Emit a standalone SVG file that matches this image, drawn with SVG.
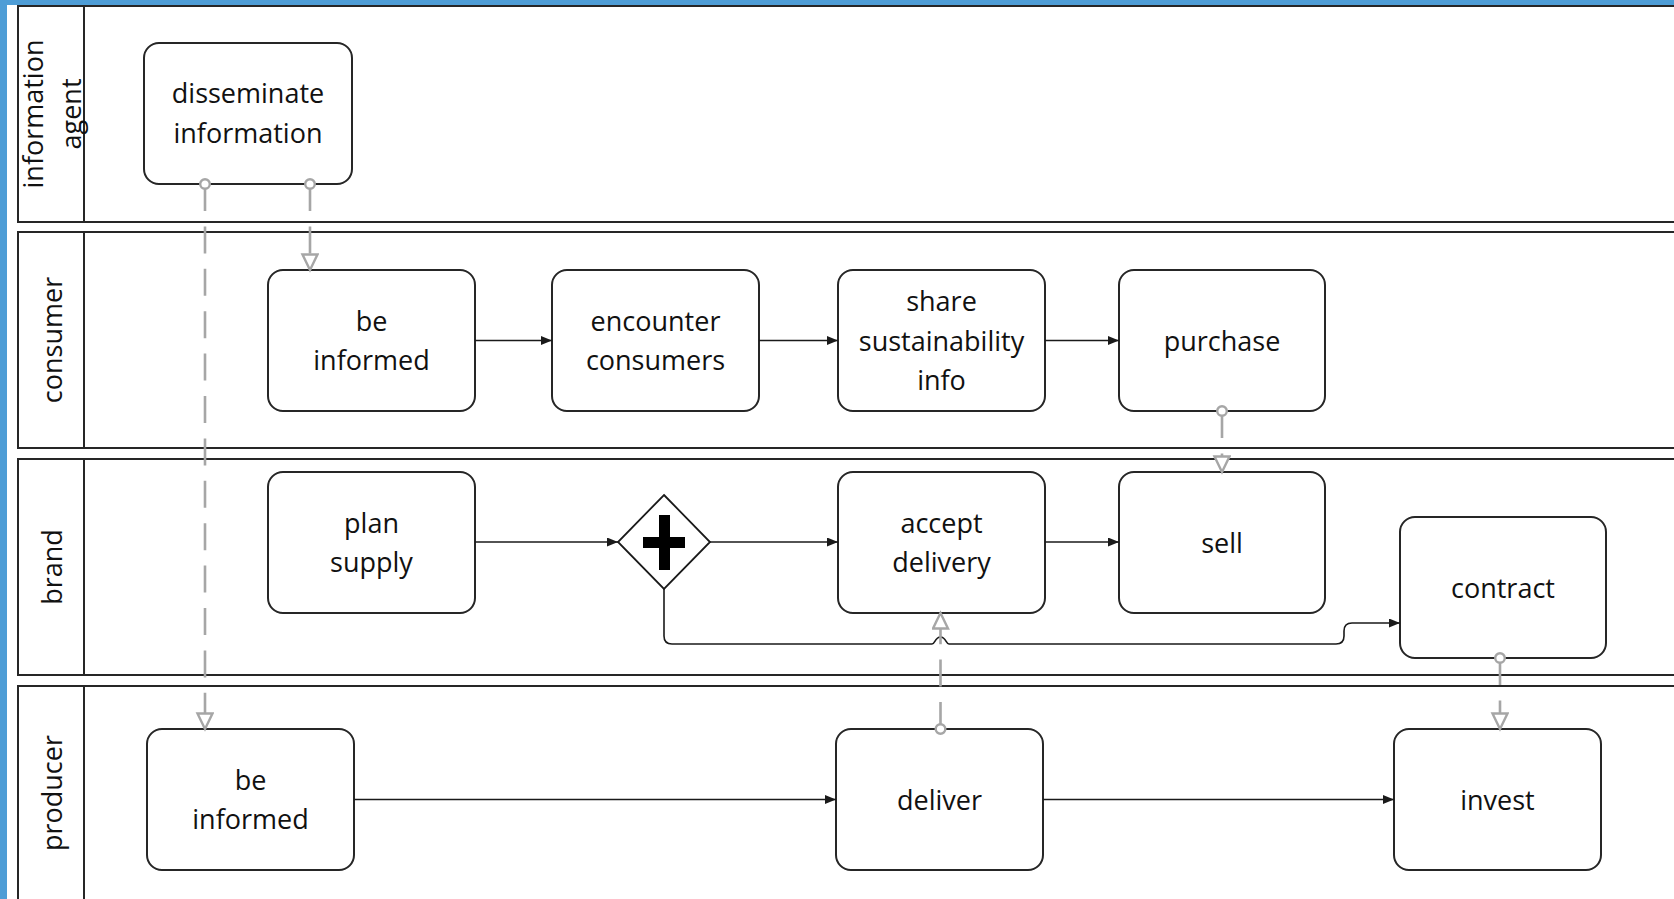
<svg xmlns="http://www.w3.org/2000/svg" width="1674" height="899" viewBox="0 0 1674 899">
  <style>
    .lane { fill: #ffffff; stroke: #262626; stroke-width: 2; }
    .hdr { stroke: #262626; stroke-width: 2; }
    .task { fill: #ffffff; stroke: #262626; stroke-width: 2; }
    .lbl { font-family: "Open Sans", "Noto Sans", sans-serif; font-size: 27px; fill: #111111; text-anchor: middle; }
    .seq { fill: none; stroke: #1a1a1a; stroke-width: 1.6; marker-end: url(#arrow); }
    .msg { fill: none; stroke: #a6a6a6; stroke-width: 2.6; stroke-dasharray: 27 15.4; marker-start: url(#dot); marker-end: url(#open); }
  </style>
  <defs>
    <marker id="arrow" markerUnits="userSpaceOnUse" markerWidth="12" markerHeight="10" refX="11" refY="4.5" orient="auto">
      <path d="M0,0 L11,4.5 L0,9 z" fill="#1a1a1a"/>
    </marker>
    <marker id="open" markerUnits="userSpaceOnUse" markerWidth="20" markerHeight="20" refX="17" refY="9" orient="auto">
      <path d="M1.5,1.5 L17,9 L1.5,16.5 z" fill="#ffffff" stroke="#a6a6a6" stroke-width="2.4" stroke-dasharray="none"/>
    </marker>
    <marker id="dot" markerUnits="userSpaceOnUse" markerWidth="14" markerHeight="14" refX="7" refY="7" orient="auto">
      <circle cx="7" cy="7" r="4.8" fill="#ffffff" stroke="#a6a6a6" stroke-width="2.4" stroke-dasharray="none"/>
    </marker>
  </defs>

  <rect x="0" y="0" width="1674" height="899" fill="#ffffff"/>
  <!-- window frame -->
  <rect x="0" y="0" width="7" height="899" fill="#4e9dd6"/>
  <rect x="0" y="0" width="1674" height="5" fill="#4e9dd6"/>

  <!-- swimlanes -->
  <g id="lane-information-agent">
    <rect class="lane" x="18" y="6" width="1700" height="216"/>
    <line class="hdr" x1="84" y1="6" x2="84" y2="222"/>
    <text class="lbl" transform="translate(43,114) rotate(-90)">information</text>
    <text class="lbl" transform="translate(81,114) rotate(-90)">agent</text>
  </g>
  <g id="lane-consumer">
    <rect class="lane" x="18" y="232" width="1700" height="216"/>
    <line class="hdr" x1="84" y1="232" x2="84" y2="448"/>
    <text class="lbl" transform="translate(62,340) rotate(-90)">consumer</text>
  </g>
  <g id="lane-brand">
    <rect class="lane" x="18" y="459" width="1700" height="216"/>
    <line class="hdr" x1="84" y1="459" x2="84" y2="675"/>
    <text class="lbl" transform="translate(62,567) rotate(-90)">brand</text>
  </g>
  <g id="lane-producer">
    <rect class="lane" x="18" y="686" width="1700" height="230"/>
    <line class="hdr" x1="84" y1="686" x2="84" y2="916"/>
    <text class="lbl" transform="translate(62,793) rotate(-90)">producer</text>
  </g>

  <!-- tasks -->
  <g id="disseminate-information">
    <rect class="task" x="144" y="43" width="208" height="141" rx="15"/>
    <text class="lbl" x="248" y="103">disseminate</text>
    <text class="lbl" x="248" y="143">information</text>
  </g>
  <g id="consumer-be-informed">
    <rect class="task" x="268" y="270" width="207" height="141" rx="15"/>
    <text class="lbl" x="371.5" y="331">be</text>
    <text class="lbl" x="371.5" y="370">informed</text>
  </g>
  <g id="encounter-consumers">
    <rect class="task" x="552" y="270" width="207" height="141" rx="15"/>
    <text class="lbl" x="655.5" y="331">encounter</text>
    <text class="lbl" x="655.5" y="370">consumers</text>
  </g>
  <g id="share-sustainability-info">
    <rect class="task" x="838" y="270" width="207" height="141" rx="15"/>
    <text class="lbl" x="941.5" y="311">share</text>
    <text class="lbl" x="941.5" y="351">sustainability</text>
    <text class="lbl" x="941.5" y="390">info</text>
  </g>
  <g id="purchase">
    <rect class="task" x="1119" y="270" width="206" height="141" rx="15"/>
    <text class="lbl" x="1222" y="351">purchase</text>
  </g>
  <g id="plan-supply">
    <rect class="task" x="268" y="472" width="207" height="141" rx="15"/>
    <text class="lbl" x="371.5" y="533">plan</text>
    <text class="lbl" x="371.5" y="572">supply</text>
  </g>
  <g id="parallel-gateway">
    <path d="M664,495 L710,542 L664,589 L618,542 z" fill="#ffffff" stroke="#1a1a1a" stroke-width="1.8"/>
    <path d="M659,515 h11 v22 h15 v11 h-15 v22 h-11 v-22 h-16 v-11 h16 z" fill="#000000"/>
  </g>
  <g id="accept-delivery">
    <rect class="task" x="838" y="472" width="207" height="141" rx="15"/>
    <text class="lbl" x="941.5" y="533">accept</text>
    <text class="lbl" x="941.5" y="572">delivery</text>
  </g>
  <g id="sell">
    <rect class="task" x="1119" y="472" width="206" height="141" rx="15"/>
    <text class="lbl" x="1222" y="553">sell</text>
  </g>
  <g id="contract">
    <rect class="task" x="1400" y="517" width="206" height="141" rx="15"/>
    <text class="lbl" x="1503" y="598">contract</text>
  </g>
  <g id="producer-be-informed">
    <rect class="task" x="147" y="729" width="207" height="141" rx="15"/>
    <text class="lbl" x="250.5" y="790">be</text>
    <text class="lbl" x="250.5" y="829">informed</text>
  </g>
  <g id="deliver">
    <rect class="task" x="836" y="729" width="207" height="141" rx="15"/>
    <text class="lbl" x="939.5" y="810">deliver</text>
  </g>
  <g id="invest">
    <rect class="task" x="1394" y="729" width="207" height="141" rx="15"/>
    <text class="lbl" x="1497.5" y="810">invest</text>
  </g>

  <!-- flows -->
  <g id="connectors">
    <!-- sequence flows -->
    <path class="seq" d="M475,340.5 H552"/>
    <path class="seq" d="M759,340.5 H838"/>
    <path class="seq" d="M1045,340.5 H1119"/>
    <path class="seq" d="M475,542 H618"/>
    <path class="seq" d="M710,542 H838"/>
    <path class="seq" d="M1045,542 H1119"/>
    <path class="seq" d="M664,589 V636 Q664,644 672,644 H932 C935,644 935,637 940.5,637 C946,637 946,644 949,644 H1336 Q1344,644 1344,636 V631 Q1344,623 1352,623 H1400"/>
    <path class="seq" d="M354,799.5 H836"/>
    <path class="seq" d="M1043,799.5 H1394"/>
    <!-- message flows -->
    <path class="msg" d="M205,184 V729"/>
    <path class="msg" d="M310,184 V270"/>
    <path class="msg" d="M1222,411 V472"/>
    <path class="msg" d="M940.5,729 V613"/>
    <path class="msg" d="M1500,658 V729"/>
  </g>
</svg>
